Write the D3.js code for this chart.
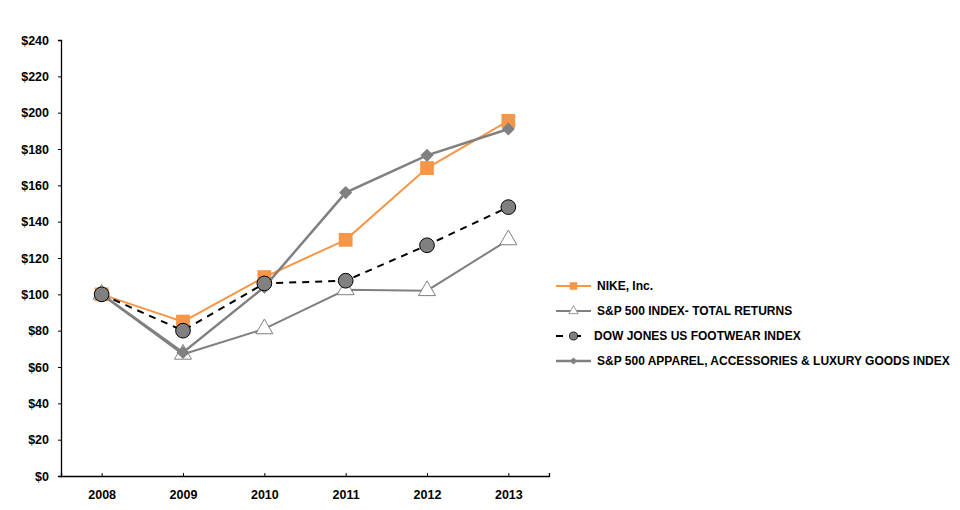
<!DOCTYPE html>
<html>
<head>
<meta charset="utf-8">
<script src="https://cdn.jsdelivr.net/npm/d3@7"></script>
<style>
  body { margin: 0; background: #fff; }
  text { font-family: "Liberation Sans", Arial, sans-serif; font-weight: bold; fill: #000; }
</style>
</head>
<body>
<script>
// chart data
const years = ['2008', '2009', '2010', '2011', '2012', '2013']
const nike = [100, 85, 109.5, 130, 169.5, 195.5]
const sp500 = [100, 67, 81, 102.5, 102, 130]
const dowFootwear = [100, 80, 106, 107.5, 127, 148]
const apparel = [100, 68, 104, 156, 176.5, 191]
const yTicks = [0, 20, 40, 60, 80, 100, 120, 140, 160, 180, 200, 220, 240]

const seriesNames = ['NIKE, Inc.', 'S&P 500 INDEX- TOTAL RETURNS',
  'DOW JONES US FOOTWEAR INDEX', 'S&P 500 APPAREL, ACCESSORIES & LUXURY GOODS INDEX']

const series = [
  {name: seriesNames[0], values: nike, stroke: '#F79646', width: 2, dash: null, marker: 'square', fill: '#F79646', mstroke: 'none', size: 190},
  {name: seriesNames[1], values: sp500, stroke: '#808080', width: 2, dash: null, marker: 'triangle', fill: '#fff', mstroke: '#808080', size: 125},
  {name: seriesNames[3], values: apparel, stroke: '#808080', width: 2.5, dash: null, marker: 'diamond', fill: '#808080', mstroke: 'none', size: 110},
  {name: seriesNames[2], values: dowFootwear, stroke: '#000', width: 2, dash: '7,6', marker: 'circle', fill: '#808080', mstroke: '#000', size: 170}
]

const svg = d3.select('body').append('svg')
  .attr('width', 960)
  .attr('height', 510)

const plot = {left: 61, right: 549, top: 40, bottom: 476}

const x = d3.scalePoint().domain(years).range([plot.left, plot.right]).padding(0.5)
const y = d3.scaleLinear().domain([0, 240]).range([plot.bottom, plot.top])

// y axis
const yAxis = svg.append('g')
  .attr('transform', 'translate(' + plot.left + ',0)')
  .call(d3.axisLeft(y).tickValues(yTicks).tickSize(3).tickPadding(9).tickFormat(d => '$' + d))
yAxis.select('.domain').attr('stroke', '#000').attr('stroke-width', 1.3)
yAxis.selectAll('.tick line').attr('stroke', '#000')
yAxis.selectAll('.tick text').style('font-size', '12.5px')

// x axis with ticks pointing up
const xAxis = svg.append('g')
  .attr('transform', 'translate(0,' + plot.bottom + ')')
  .call(d3.axisBottom(x).tickSize(-3).tickSizeOuter(-3).tickPadding(14))
xAxis.select('.domain').attr('stroke', '#000').attr('stroke-width', 1.3)
xAxis.selectAll('.tick line').attr('stroke', '#000')
xAxis.selectAll('.tick text').style('font-size', '12.5px')

const symbols = {
  square: d3.symbolSquare,
  triangle: d3.symbolTriangle,
  diamond: d3.symbolDiamond2,
  circle: d3.symbolCircle
}

const line = d3.line()
  .x((d, i) => x(years[i]))
  .y(d => y(d))

series.forEach(s => {
  svg.append('path')
    .datum(s.values)
    .attr('fill', 'none')
    .attr('stroke', s.stroke)
    .attr('stroke-width', s.width)
    .attr('stroke-dasharray', s.dash)
    .attr('d', line)

  svg.selectAll(null)
    .data(s.values)
    .enter().append('path')
    .attr('transform', (d, i) => 'translate(' + x(years[i]) + ',' + y(d) + ')')
    .attr('d', d3.symbol().type(symbols[s.marker]).size(s.size))
    .attr('fill', s.fill)
    .attr('stroke', s.mstroke)
    .attr('stroke-width', 1)
})

// legend, in original order
const legendOrder = [series[0], series[1], series[3], series[2]]
const legend = svg.append('g')
  .attr('transform', 'translate(556,286)')

legendOrder.forEach((s, i) => {
  const g = legend.append('g').attr('transform', 'translate(0,' + (i * 25) + ')')
  g.append('line')
    .attr('x1', 0).attr('x2', 35)
    .attr('stroke', s.stroke)
    .attr('stroke-width', s.width)
    .attr('stroke-dasharray', s.dash ? '7,11' : null)
  g.append('path')
    .attr('transform', 'translate(17.5,0)')
    .attr('d', d3.symbol().type(symbols[s.marker]).size(s.size * 0.3))
    .attr('fill', s.fill)
    .attr('stroke', s.mstroke)
    .attr('stroke-width', 0.8)
  g.append('text')
    .attr('x', s.dash ? 38 : 41)
    .attr('dy', '0.35em')
    .style('font-size', '12px')
    .text(s.name)
})
</script>
</body>
</html>
